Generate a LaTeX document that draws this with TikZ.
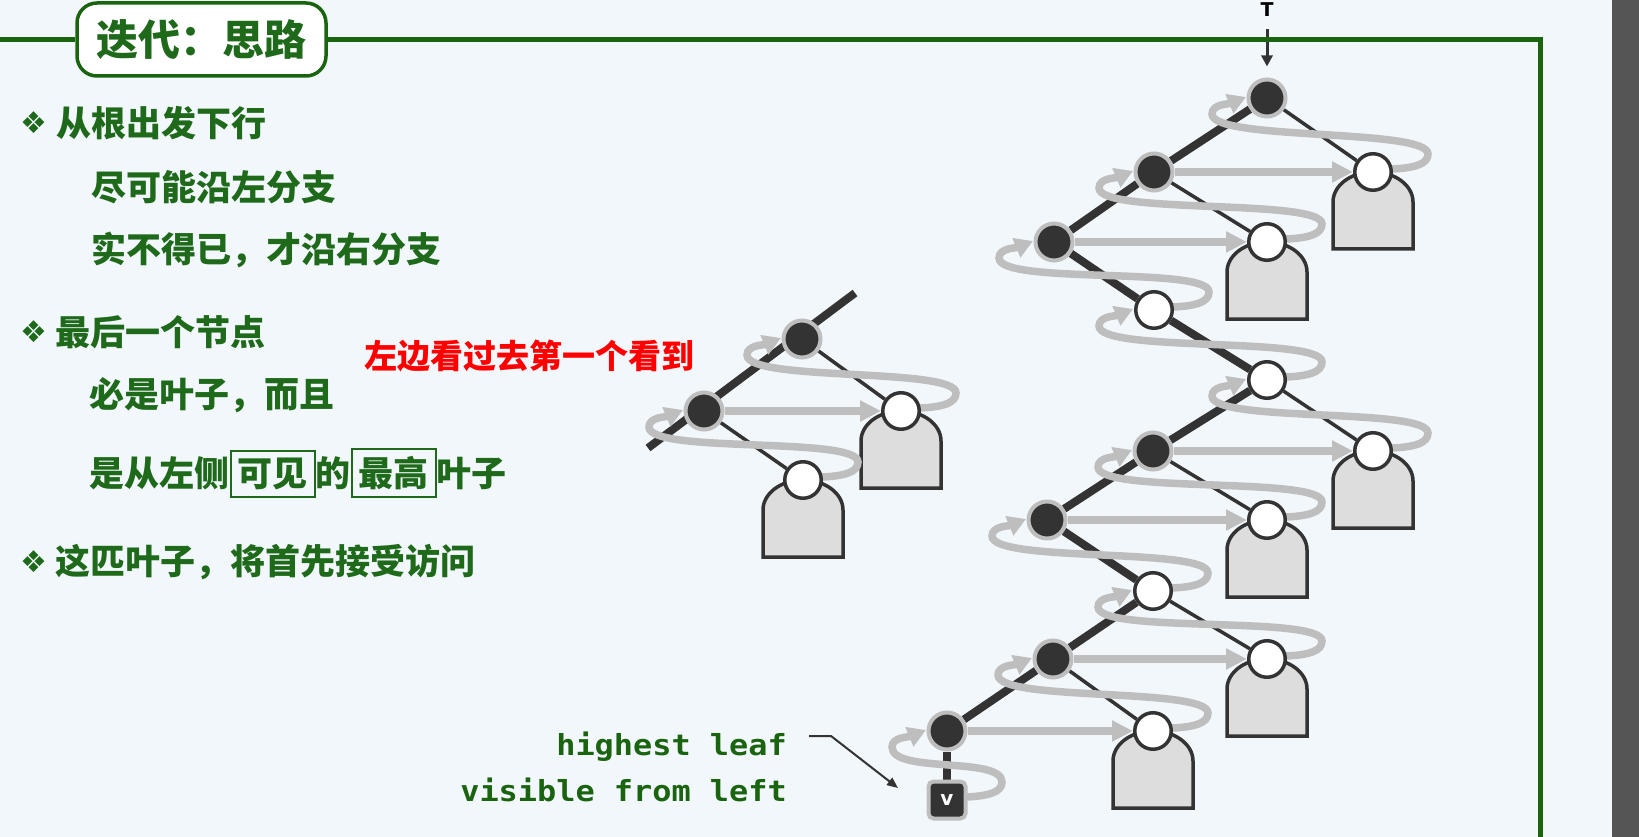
\documentclass[tikz,border=0pt]{standalone}
\usepackage{fontspec}
\newfontfamily\cjk{Noto Sans CJK SC}
\newfontfamily\sym{DejaVu Sans}
\newfontfamily\monob[FakeStretch=1.1]{DejaVu Sans Mono}
\usetikzlibrary{arrows.meta,calc}
\definecolor{bgc}{HTML}{F2F7FC}
\definecolor{frameg}{RGB}{26,100,16}
\definecolor{txtg}{RGB}{30,106,26}
\definecolor{nodedark}{HTML}{333333}
\definecolor{ringgray}{HTML}{BEBEBE}
\definecolor{leafgray}{HTML}{DDDDDD}
\definecolor{bandgray}{HTML}{555555}
\pgfdeclarelayer{bgl}\pgfdeclarelayer{edgel}\pgfdeclarelayer{boxl}\pgfdeclarelayer{loopl}
\pgfsetlayers{bgl,edgel,boxl,loopl,main}
\newcommand\gbox[1]{{\setlength\fboxsep{6pt}\setlength\fboxrule{2pt}\fbox{#1}}}
\newcommand\subtr[1]{\draw[subtree] ([shift={(-40,77)}]#1.center) -- ([shift={(-40,30)}]#1.center) arc[start angle=180,end angle=0,x radius=40pt,y radius=30pt] -- ([shift={(40,77)}]#1.center) -- cycle;}
\newcommand\looparc[2]{\draw[loopline] ([shift={(19,-3)}]#2.center)
   .. controls ([shift={(42,-4)}]#2.center) and ([shift={(55,-8)}]#2.center) .. ([shift={(55,-18)}]#2.center)
   .. controls ([shift={(55,-44)}]#2.center) and ([shift={(-55,43)}]#1.center) .. ([shift={(-55,16)}]#1.center)
   .. controls ([shift={(-55,6)}]#1.center) and ([shift={(-38,6)}]#1.center) .. ([shift={(-21,-1)}]#1.center);}
\begin{document}
\begin{tikzpicture}[x=1pt,y=-1pt,
  dnode/.style={circle,fill=nodedark,draw=ringgray,line width=4pt,minimum size=37pt,inner sep=0pt},
  wnode/.style={circle,fill=white,draw=nodedark,line width=3.5pt,minimum size=36.5pt,inner sep=0pt},
  vnode/.style={rectangle,rounded corners=5pt,fill=nodedark,draw=ringgray,line width=4pt,minimum size=37pt,inner sep=0pt,text=white,font=\sym\bfseries\fontsize{20}{20}\selectfont},
  thickedge/.style={draw=nodedark,line width=8pt},
  thinedge/.style={draw=nodedark,line width=3.5pt},
  harrow/.style={draw=ringgray,line width=7.5pt,-{Triangle[length=21pt,width=20pt]}},
  loopline/.style={draw=ringgray,line width=7.5pt,-{Triangle[length=18pt,width=20pt]}},
  subtree/.style={draw=nodedark,fill=leafgray,line width=3.5pt},
  txt/.style={anchor=west,inner sep=0pt,text=txtg,font=\cjk\bfseries\fontsize{35}{40}\selectfont},
  bul/.style={inner sep=0pt,text=txtg,font=\sym\fontsize{30}{30}\selectfont},
  redtxt/.style={anchor=west,inner sep=0pt,text=red,font=\cjk\bfseries\fontsize{33}{38}\selectfont},
  entxt/.style={anchor=east,inner sep=0pt,text=frameg,font=\monob\bfseries\fontsize{29}{32}\selectfont},
  framel/.style={draw=frameg,line width=5pt},
  titlebox/.style={draw=frameg,fill=white,line width=3.5pt,rounded corners=20pt,minimum width=249pt,minimum height=73pt,inner sep=0pt,text=txtg,font=\cjk\bfseries\fontsize{42}{46}\selectfont},
  annline/.style={draw=nodedark,line width=2pt,-{Triangle[length=11pt,width=9pt]}},
  tarrow/.style={draw=nodedark,line width=3pt,-{Triangle[length=11pt,width=11pt]}},
  tlabel/.style={inner sep=0pt,text=black,font=\sym\bfseries\fontsize{19}{19}\selectfont}
]
\useasboundingbox (0,0) rectangle (1639,837);
\begin{pgfonlayer}{bgl}
\fill[bgc] (0,0) rectangle (1639,837);
\fill[bandgray] (1612,0) rectangle (1639,837);
\end{pgfonlayer}

% ---------- text ----------
\node[titlebox] (title) at (201.5,39.5) {迭代：思路};
\coordinate (fl) at (0,39.5);
\coordinate (fc) at (1540,39.5);
\coordinate (fb) at (1540,837);

\node[bul] (b1) at (34,123) {❖};
\node[txt] (t1) at (56,123) {从根出发下行};
\node[txt] (t2) at (91,187) {尽可能沿左分支};
\node[txt] (t3) at (91,250) {实不得已，才沿右分支};
\node[bul] (b2) at (34,332) {❖};
\node[txt] (t4) at (55,332) {最后一个节点};
\node[txt] (t5) at (89.5,395) {必是叶子，而且};
\node[txt] (t6) at (89.5,473) {是从左侧\gbox{可见}的\gbox{最高}叶子};
\node[bul] (b3) at (34,562) {❖};
\node[txt] (t7) at (55,562) {这匹叶子，将首先接受访问};
\node[redtxt] (red) at (364,356) {左边看过去第一个看到};

\node[entxt] (e1) at (787,747) {highest leaf};
\node[entxt] (e2) at (787,790) {visible from left};

% ---------- left small tree ----------
\node[dnode] (L1) at (802,339) {};
\node[dnode] (L2) at (704,411) {};
\node[wnode] (L1r) at (901,411) {};
\node[wnode] (L2r) at (803,480) {};
\coordinate (lda) at (855,293);
\coordinate (ldb) at (648,448);

% ---------- right tree ----------
\node[tlabel] (T) at (1267,10) {T};
\node[dnode] (R1) at (1267,98) {};
\node[wnode] (R1r) at (1373,172) {};
\node[dnode] (R2) at (1154,172) {};
\node[wnode] (R2r) at (1267,242) {};
\node[dnode] (R3) at (1054,242) {};
\node[wnode] (W1) at (1154,310) {};
\node[wnode] (W2) at (1267,380) {};
\node[wnode] (W2r) at (1373,451) {};
\node[dnode] (D4) at (1153,451) {};
\node[wnode] (D4r) at (1267,520) {};
\node[dnode] (D5) at (1047,520) {};
\node[wnode] (W3) at (1153,591) {};
\node[wnode] (W3r) at (1267,659) {};
\node[dnode] (D6) at (1053,659) {};
\node[wnode] (D6r) at (1153,731) {};
\node[dnode] (D7) at (947,731) {};
\node[vnode] (V) at (947,800) {v};

\coordinate (an1) at (809,736);
\coordinate (an2) at (831,736);
\coordinate (an3) at (898,788);

\begin{pgfonlayer}{edgel}
\draw[tarrow,shorten <=12pt,shorten >=11pt] (T) -- (R1);
\draw[framel] (fl) -- (title.west);
\draw[framel] (title.east) -- (fc) -- (fb);
\draw[thickedge] (lda) -- (ldb);
\draw[thinedge] (L1) -- (L1r);
\draw[thinedge] (L2) -- (L2r);
\foreach \a/\b in {R1/R2,R2/R3,R3/W1,W1/W2,W2/D4,D4/D5,D5/W3,W3/D6,D6/D7,D7/V}
  \draw[thickedge] (\a) -- (\b);
\foreach \a/\b in {R1/R1r,R2/R2r,W2/W2r,D4/D4r,W3/W3r,D6/D6r}
  \draw[thinedge] (\a) -- (\b);
\draw[annline] (an1) -- (an2) -- (an3);
\end{pgfonlayer}

\begin{pgfonlayer}{boxl}
\foreach \n in {L1r,L2r,R1r,R2r,W2r,D4r,W3r,D6r} {\subtr{\n}}
\end{pgfonlayer}

\begin{pgfonlayer}{loopl}
\draw[harrow] (L2) -- (L1r);
\foreach \a/\b in {R2/R1r,R3/R2r,D4/W2r,D5/D4r,D6/W3r,D7/D6r}
  \draw[harrow] (\a) -- (\b);
\looparc{L1}{L1r}
\looparc{L2}{L2r}
\looparc{R1}{R1r}
\looparc{R2}{R2r}
\looparc{R3}{W1}
\looparc{W1}{W2}
\looparc{W2}{W2r}
\looparc{D4}{D4r}
\looparc{D5}{W3}
\looparc{W3}{W3r}
\looparc{D6}{D6r}
\looparc{D7}{V}
\end{pgfonlayer}
\end{tikzpicture}
\end{document}
